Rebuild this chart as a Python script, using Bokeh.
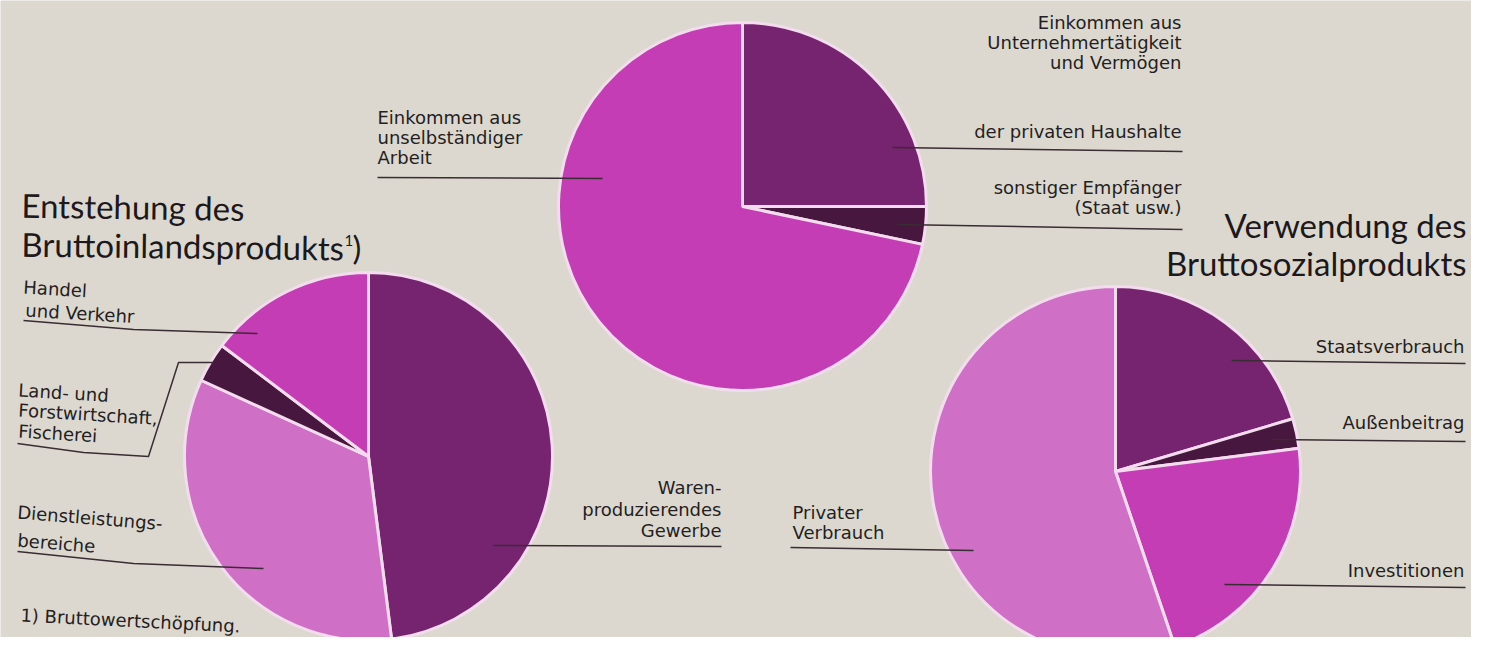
import numpy as np
from bokeh.plotting import figure
from bokeh.models import Range1d, ColumnDataSource
from bokeh.core.properties import value
from bokeh.embed import file_html
from bokeh.resources import INLINE

# ---------------- data (shares in %, clockwise from 12 o'clock) ----------------
entstehung_labels = ["Warenproduzierendes Gewerbe", "Dienstleistungsbereiche",
                     "Land- und Forstwirtschaft, Fischerei", "Handel und Verkehr"]
entstehung_values = [48.0, 33.8, 3.5, 14.7]

verteilung_labels = ["Einkommen aus Unternehmertätigkeit und Vermögen der privaten Haushalte",
                     "sonstiger Empfänger (Staat usw.)",
                     "Einkommen aus unselbständiger Arbeit"]
verteilung_values = [25.0, 3.3, 71.7]

verwendung_labels = ["Staatsverbrauch", "Außenbeitrag", "Investitionen", "Privater Verbrauch"]
verwendung_values = [20.4, 2.6, 21.8, 55.2]

# ---------------- styles ----------------
BG = "#dcd8cf"
DARK = "#76246f"
BLACKISH = "#48173f"
MAGENTA = "#c43db5"
LIGHT = "#cf70c6"
SEP = "#f3dcee"
INK = "#241e22"
TITLE_INK = "#1c181b"

entstehung_colors = [DARK, LIGHT, BLACKISH, MAGENTA]
verteilung_colors = [DARK, BLACKISH, MAGENTA]
verwendung_colors = [DARK, BLACKISH, MAGENTA, LIGHT]

W, H = 1471, 637
p = figure(width=W, height=H, output_backend="svg", toolbar_location=None,
           x_range=Range1d(0, W), y_range=Range1d(-H, 0),
           min_border=0, background_fill_color=BG, border_fill_color=BG)
p.axis.visible = False
p.grid.visible = False
p.outline_line_color = None


def pie(cx, cy, r, values, colors, labels):
    v = np.asarray(values, dtype=float)
    frac = v / v.sum()
    cum = np.concatenate([[0.0], np.cumsum(frac)]) * 2 * np.pi
    a0, a1 = cum[:-1], cum[1:]
    src = ColumnDataSource(dict(
        x=[cx] * len(v), y=[-cy] * len(v),
        start=(np.pi / 2 - a1).tolist(), end=(np.pi / 2 - a0).tolist(),
        color=colors, label=labels))
    p.wedge(x="x", y="y", radius=r, start_angle="start", end_angle="end",
            fill_color="color", line_color=SEP, line_width=3, source=src)


pie(368, 456, 184, entstehung_values, entstehung_colors, entstehung_labels)
pie(742, 206, 184, verteilung_values, verteilung_colors, verteilung_labels)
pie(1115, 471, 185, verwendung_values, verwendung_colors, verwendung_labels)

# empirical baseline correction (fraction of font size) for the renderer
BASE_K = {"DejaVu Sans": 0.36, "Lato": 0.39}


def txt(x, y, s, size=18, align="left", angle=0.0, font="DejaVu Sans", color=INK):
    yy = y - BASE_K[font] * size
    p.text(x=[x], y=[-yy], text=[s], text_font=value(font), text_font_size=f"{size}px",
           text_align=align, text_baseline="alphabetic", angle=angle,
           text_color=color)


def leader(xs, ys):
    p.line(x=xs, y=[-v for v in ys], line_color="#3a2c33", line_width=1.5)


# ---------------- titles ----------------
txt(21, 217, "Entstehung des", size=33, font="Lato", angle=-0.015, color=TITLE_INK)
txt(21, 256, "Bruttoinlandsprodukts", size=33, font="Lato", angle=-0.012, color=TITLE_INK)
txt(344, 246, "1", size=15, font="Lato", color=TITLE_INK)
txt(352, 259, ")", size=33, font="Lato", color=TITLE_INK)

txt(1466, 237, "Verwendung des", size=33, font="Lato", align="right", color=TITLE_INK)
txt(1466, 275, "Bruttosozialprodukts", size=33, font="Lato", align="right", color=TITLE_INK)

# ---------------- left pie labels ----------------
txt(23, 293, "Handel", angle=-0.06)
txt(25, 316, "und Verkehr", angle=-0.06)
leader([23, 133, 257], [320, 329, 333])

txt(18, 396, "Land- und", angle=-0.06)
txt(18, 416, "Forstwirtschaft,", angle=-0.06)
txt(18, 437, "Fischerei", angle=-0.06)
leader([17, 83, 148, 178, 213], [443, 452, 456, 362, 362])

txt(17, 518, "Dienstleistungs-", angle=-0.08)
txt(17, 546, "bereiche", angle=-0.08)
leader([17, 133, 263], [551, 563, 568])

txt(721, 493, "Waren-", align="right")
txt(721, 515, "produzierendes", align="right")
txt(721, 536, "Gewerbe", align="right")
leader([493, 721], [545, 546])

# ---------------- middle pie labels ----------------
txt(1181, 28, "Einkommen aus", align="right")
txt(1181, 48, "Unternehmertätigkeit", align="right")
txt(1181, 68, "und Vermögen", align="right")
txt(1181, 137, "der privaten Haushalte", align="right")
leader([892, 1182], [147, 151])
txt(1181, 193, "sonstiger Empfänger", align="right")
txt(1181, 213, "(Staat usw.)", align="right")
leader([897, 1182], [224, 229])

txt(377, 123, "Einkommen aus")
txt(377, 143, "unselbständiger")
txt(377, 163, "Arbeit")
leader([377, 602], [177, 178])

# ---------------- right pie labels ----------------
txt(1464, 352, "Staatsverbrauch", align="right")
leader([1231, 1465], [360, 363])
txt(1464, 428, "Außenbeitrag", align="right")
leader([1271, 1465], [439, 441])
txt(1464, 576, "Investitionen", align="right")
leader([1224, 1465], [584, 587])
txt(792, 518, "Privater")
txt(792, 538, "Verbrauch")
leader([790, 973], [547, 550])

# ---------------- footnote ----------------
txt(20, 621, "1) Bruttowertschöpfung.", angle=-0.05)

open("out.html", "w").write(file_html(p, INLINE))
